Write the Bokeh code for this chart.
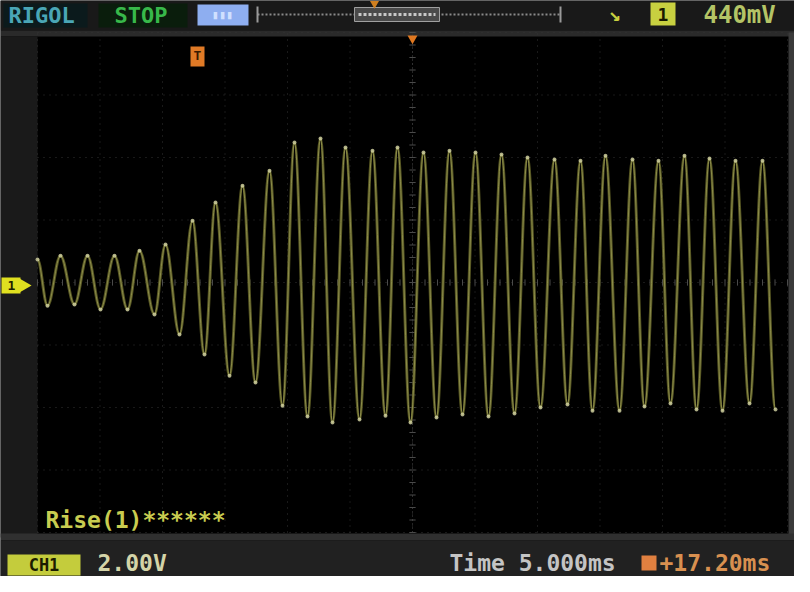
import math
from bokeh.plotting import figure
from bokeh.models import Range1d
from bokeh.core.properties import value
from bokeh.embed import file_html
from bokeh.resources import INLINE

# ---- data (time in ms, voltage in V) ----
peak_t = [-30.0, -28.16, -26.0, -23.84, -21.84, -19.76, -17.6, -15.76, -13.6, -11.44,
          -9.44, -7.36, -5.36, -3.2, -1.2, 0.88, 2.96, 5.04, 7.12, 9.2,
          11.36, 13.44, 15.44, 17.6, 19.68, 21.76, 23.76, 25.84, 28.0]
peak_v = [0.74, 0.86, 0.86, 0.86, 1.02, 1.22, 1.98, 2.56, 3.10, 3.58,
          4.48, 4.61, 4.32, 4.22, 4.32, 4.16, 4.22, 4.16, 4.10, 4.00,
          3.94, 3.90, 4.06, 3.94, 3.90, 4.06, 3.97, 3.90, 3.90]
trough_t = [-29.2, -27.04, -24.96, -22.8, -20.64, -18.64, -16.64, -14.64, -12.56, -10.4,
            -8.4, -6.4, -4.24, -2.16, -0.16, 1.92, 4.0, 6.08, 8.16, 10.24,
            12.4, 14.4, 16.56, 18.56, 20.64, 22.72, 24.8, 26.96, 29.04]
trough_v = [-0.74, -0.70, -0.86, -0.86, -1.02, -1.66, -2.30, -2.98, -3.20, -3.94,
            -4.29, -4.48, -4.38, -4.26, -4.48, -4.32, -4.22, -4.29, -4.19, -4.00,
            -3.90, -4.10, -4.10, -3.97, -3.87, -4.06, -4.10, -3.87, -4.06]

x_divs = [-30, -25, -20, -15, -10, -5, 0, 5, 10, 15, 20, 25, 30]
y_divs = [-8, -6, -4, -2, 0, 2, 4, 6, 8]

brand = "RIGOL"
run_state = "STOP"
trig_level = "440mV"
meas_text = "Rise(1)******"
ch_label = "CH1"
ch_scale = "2.00V"
time_label = "Time 5.000ms"
delay_label = "+17.20ms"

# ---- layout helpers (page pixels -> data units) ----
PX_PER_MS = 12.5
PX_PER_V = 31.25
CX, CY = 420, 290
W, H = 794, 576


def X(px):
    return (px - CX) / PX_PER_MS


def Y(py):
    return (CY - py) / PX_PER_V


p = figure(width=W, height=H, output_backend="svg", toolbar_location=None,
           x_range=Range1d(X(8), X(8 + W)), y_range=Range1d(Y(8 + H), Y(8)),
           x_axis_location=None, y_axis_location=None, min_border=0,
           background_fill_color="#000000", border_fill_color="#000000",
           outline_line_color=None)
p.xgrid.visible = False
p.ygrid.visible = False


def box(x0, y0, x1, y1, fill, line=None, lw=1):
    p.quad(left=X(x0), right=X(x1), top=Y(y0), bottom=Y(y1),
           fill_color=fill, line_color=line, line_width=lw)


def txt(x, y, s, color, size="22px", align="left", style="bold"):
    p.text(x=[X(x)], y=[Y(y)], text=[s], text_color=color,
           text_font=value("DejaVu Sans Mono"), text_font_style=style,
           text_font_size=size, text_align=align, text_baseline="middle")


# ---- frame panels ----
box(8, 8, 802, 38, "#191919")
box(8, 38, 802, 44, "#2a2a2a")
box(8, 44, 45, 545, "#1a1a1a")
box(796, 40, 802, 545, "#3a3a3a")
box(8, 541, 802, 548, "#303030")
box(8, 548, 802, 584, "#212121")

# ---- grid ----
p.segment(x0=x_divs, y0=[y_divs[0]] * len(x_divs), x1=x_divs, y1=[y_divs[-1]] * len(x_divs),
          line_color="#333333", line_dash="1 5", line_width=1)
p.segment(x0=[x_divs[0]] * len(y_divs), y0=y_divs, x1=[x_divs[-1]] * len(y_divs), y1=y_divs,
          line_color="#333333", line_dash="1 5", line_width=1)
# centre cross ticks
mx = [x_divs[0] + i * (x_divs[1] - x_divs[0]) / 5 for i in range(5 * (len(x_divs) - 1) + 1)]
my = [y_divs[0] + i * (y_divs[1] - y_divs[0]) / 5 for i in range(5 * (len(y_divs) - 1) + 1)]
p.segment(x0=mx, y0=[-0.1] * len(mx), x1=mx, y1=[0.1] * len(mx), line_color="#4a4a4a")
p.segment(x0=[-0.25] * len(my), y0=my, x1=[0.25] * len(my), y1=my, line_color="#4a4a4a")
p.line([0, 0], [y_divs[0], y_divs[-1]], line_color="#4a4a4a", line_dash="1 3")

# ---- waveform: smooth half-cycles between the read extremes ----
pts = sorted(zip(peak_t + trough_t, peak_v + trough_v))
wt = [a for a, _ in pts]
wv = [b for _, b in pts]
k = 0.36
x0 = wt[:-1]
y0 = wv[:-1]
x1 = wt[1:]
y1 = wv[1:]
cx0 = [a + k * (b - a) for a, b in zip(x0, x1)]
cx1 = [b - k * (b - a) for a, b in zip(x0, x1)]
p.bezier(x0=x0, y0=y0, x1=x1, y1=y1, cx0=cx0, cy0=y0, cx1=cx1, cy1=y1,
         line_color="#5e5e26", line_width=3, line_alpha=0.9)
p.bezier(x0=x0, y0=y0, x1=x1, y1=y1, cx0=cx0, cy0=y0, cx1=cx1, cy1=y1,
         line_color="#a4a45c", line_width=1, line_alpha=0.7)
p.scatter(wt, wv, size=4, fill_color="#dcdcac", line_color=None, fill_alpha=0.75)

# ---- top bar ----
box(11, 11, 95, 35, "#0b1a1c")
txt(16, 23, brand, "#4aa6b6")
box(106, 11, 195, 35, "#0a1d0c")
txt(122, 23, run_state, "#38b84a")
box(205, 12, 256, 33, "#8eaef0")
txt(230, 22, "▮▮▮", "#d0e0ff", size="12px", align="center")
# memory depth bar
p.line([X(265), X(568)], [Y(22), Y(22)], line_color="#8a8a8a", line_dash="2 2", line_width=2)
p.segment(x0=[X(265), X(568)], y0=[Y(14), Y(14)], x1=[X(265), X(568)], y1=[Y(30), Y(30)],
          line_color="#9a9a9a", line_width=2)
box(362, 15, 447, 29, "#4a4a4a", line="#a0a0a0", lw=1)
p.line([X(366), X(443)], [Y(22), Y(22)], line_color="#c8c8c8", line_dash="3 2", line_width=3)
p.scatter([X(382)], [Y(11)], marker="inverted_triangle", size=9, fill_color="#d08020", line_color=None)
# trigger icons
txt(622, 21, "↘", "#c8d040", size="20px", align="center")
box(658, 10, 683, 33, "#c8d040")
txt(670.5, 22, "1", "#1a1a00", size="18px", align="center")
txt(711, 22, trig_level, "#b4c466", size="24px")

# ---- on-screen markers ----
p.scatter([X(420)], [Y(46)], marker="inverted_triangle", size=10, fill_color="#e07820", line_color=None)
box(198, 54, 212, 74, "#e07a26")
txt(205, 63, "T", "#3a1a00", size="13px", align="center")
box(9, 285, 28, 301, "#e0e020")
p.scatter([X(31)], [Y(293)], marker="triangle", angle=-math.pi / 2, size=14,
          fill_color="#e0e020", line_color=None)
txt(19, 293, "1", "#202000", size="13px", align="center")

# measurement readout
txt(53, 527, meas_text, "#c8cc50", size="23px")

# ---- bottom bar ----
box(15, 562, 88, 583, "#c4cc3c")
txt(51.5, 572, ch_label, "#1c1c00", size="17px", align="center")
txt(105, 570, ch_scale, "#d4d4a8", size="23px")
txt(457, 570, time_label, "#c4c4c4", size="23px")
box(649, 563, 664, 578, "#e08040")
txt(667, 570, delay_label, "#d89050", size="23px")

open("out.html", "w").write(file_html(p, INLINE))
